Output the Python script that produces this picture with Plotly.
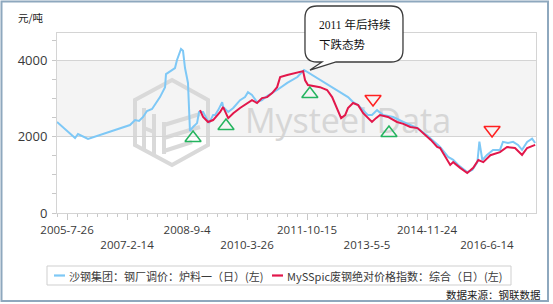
import plotly.graph_objects as go

# ---------------- data ----------------
blue_dates = ["2005-04-22", "2005-10-10", "2005-11-07", "2006-02-10", "2007-03-14", "2007-05-01",
              "2007-06-08", "2007-07-16", "2007-08-22", "2007-10-09", "2007-12-23", "2008-02-09",
              "2008-02-18", "2008-04-15", "2008-05-13", "2008-06-01", "2008-07-09", "2008-07-28",
              "2008-08-16", "2008-09-04", "2008-09-13", "2008-10-02", "2008-10-31", "2008-12-08",
              "2008-12-27", "2009-02-03", "2009-03-13", "2009-04-01", "2009-05-09", "2009-05-28",
              "2009-06-26", "2009-08-03", "2009-08-12", "2009-09-29", "2009-11-16", "2010-01-19",
              "2010-03-07", "2010-04-04", "2010-05-12", "2010-06-29", "2010-08-15", "2010-10-02",
              "2011-01-05", "2011-04-11", "2011-07-16", "2011-09-17", "2012-11-06", "2012-12-24",
              "2013-02-10", "2013-05-14", "2013-06-21", "2013-08-08", "2013-10-04", "2014-01-08",
              "2014-04-14", "2014-08-26", "2014-11-24", "2015-02-28", "2015-03-28", "2015-06-12",
              "2015-07-30", "2015-09-16", "2015-12-10", "2016-01-27", "2016-03-15", "2016-04-03",
              "2016-05-01", "2016-06-14", "2016-08-10", "2016-10-15", "2016-11-12", "2016-12-30",
              "2017-02-16", "2017-04-04", "2017-05-12", "2017-06-29", "2017-08-15", "2017-09-13"]
blue_vals = [2380, 1960, 2065, 1935, 2300, 2430,
             2405, 2510, 2666, 2720, 3030, 3290,
             3630, 3740, 3790, 4000, 4290, 4240,
             3790, 3530, 3400, 2145, 2250, 2350,
             2640, 2640, 2430, 2350, 2560, 2560,
             2690, 2900, 2770, 2640, 2745, 2950,
             3030, 3160, 3085, 2900, 2950, 3060,
             3215, 3400, 3555, 3740, 3030, 2900,
             2820, 2560, 2560, 2690, 2560, 2510,
             2380, 2220, 2035, 1810, 1725, 1465,
             1390, 1255, 1070, 1125, 1330, 1865,
             1385, 1520, 1650, 1650, 1860, 1830,
             1860, 1780, 1650, 1860, 1945, 1830]

red_dates = ["2009-01-05", "2009-02-03", "2009-03-22", "2009-05-09", "2009-07-15", "2009-08-12",
             "2009-09-29", "2009-11-16", "2010-01-19", "2010-03-26", "2010-05-12", "2010-06-29",
             "2010-08-15", "2010-10-02", "2010-11-19", "2011-01-05", "2011-02-03", "2011-04-11",
             "2011-07-16", "2011-09-08", "2011-09-27", "2011-10-24", "2012-02-15", "2012-04-22",
             "2012-06-09", "2012-07-26", "2012-09-02", "2012-10-10", "2012-11-06", "2012-12-24",
             "2013-02-10", "2013-03-30", "2013-05-14", "2013-06-21", "2013-07-29", "2013-09-05",
             "2013-11-20", "2014-02-13", "2014-04-14", "2014-06-19", "2014-08-26", "2014-10-21",
             "2014-12-30", "2015-02-28", "2015-03-28", "2015-07-02", "2015-07-30", "2015-10-04",
             "2015-12-10", "2016-02-05", "2016-03-24", "2016-05-10", "2016-07-16", "2016-10-15",
             "2016-12-21", "2017-03-06", "2017-05-12", "2017-06-29", "2017-09-13"]
red_vals = [2690, 2510, 2380, 2430, 2640, 2770,
            2480, 2610, 2745, 2875, 2950, 2875,
            3005, 3030, 3135, 3290, 3555, 3610,
            3685, 3710, 3470, 3345, 3290, 3215,
            3030, 2745, 2480, 2560, 2745, 2875,
            2820, 2610, 2480, 2380, 2480, 2560,
            2510, 2380, 2330, 2250, 2220, 2090,
            1910, 1730, 1700, 1255, 1330, 1180,
            1045, 1180, 1385, 1330, 1510, 1590,
            1725, 1700, 1520, 1700, 1780]

up_dates = ["2008-10-31", "2009-09-08", "2011-11-11", "2013-11-29"]
up_vals = [1960, 2274, 3111, 2091]
down_dates = ["2013-07-01", "2016-08-01"]
down_vals = [2980, 2170]

tick_dates = ["2005-07-26", "2007-02-14", "2008-09-04", "2010-03-26",
              "2011-10-15", "2013-05-05", "2014-11-24", "2016-06-14"]
tick_labels = ["2005-7-26", "2007-2-14", "2008-9-4", "2010-3-26",
               "2011-10-15", "2013-5-5", "2014-11-24", "2016-6-14"]
y_ticks = [0, 2000, 4000]

name_blue = "沙钢集团：钢厂调价：炉料一（日）(左)"
name_red = "MySSpic废钢绝对价格指数：综合（日）(左)"
unit_text = "元/吨"
source_text = "数据来源：钢联数据"
callout_lines = ["2011 年后持续", "下跌态势"]
watermark = "Mysteel Data"

# ---------------- layout geometry (pixels) ----------------
W, H = 553, 304
PL, PR, PT, PB = 57, 536, 33, 213
pw, ph = PR - PL, PB - PT


def px(x):
    return (x - PL) / pw


def py(y):
    return (PB - y) / ph


BLUE = "#7ec8f6"
RED = "#e2174b"
GREEN = "#24b45f"
TRIRED = "#ff2020"
FONT = "Open Sans, Noto Sans CJK SC, sans-serif"
CJK = "Noto Sans CJK SC, sans-serif"
TXT = "#3a3a3a"

fig = go.Figure()
fig.add_trace(go.Scatter(x=blue_dates, y=blue_vals, mode="lines", name=name_blue,
                         line=dict(color=BLUE, width=2), showlegend=False))
fig.add_trace(go.Scatter(x=red_dates, y=red_vals, mode="lines", name=name_red,
                         line=dict(color=RED, width=2), showlegend=False))
fig.add_trace(go.Scatter(x=up_dates, y=up_vals, mode="markers", showlegend=False,
                         marker=dict(symbol="triangle-up-open", size=14, color=GREEN,
                                     line=dict(width=1.5, color=GREEN))))
fig.add_trace(go.Scatter(x=down_dates, y=down_vals, mode="markers", showlegend=False,
                         marker=dict(symbol="triangle-down-open", size=14, color=TRIRED,
                                     line=dict(width=1.5, color=TRIRED))))

shapes = []
# shaded band between 2000 and 4000
shapes.append(dict(type="rect", xref="paper", yref="y", x0=0, x1=1, y0=2000, y1=4000,
                   fillcolor="#f4f4f4", line=dict(width=0), layer="below"))
# watermark logo (hexagon + inner strokes)
WM = "#d9d9d9"
hexpts = [(172, 80), (208, 100), (208, 145), (172, 165), (135, 145), (135, 100)]
path = "M " + " L ".join(f"{px(a):.4f},{py(b):.4f}" for a, b in hexpts) + " Z"
shapes.append(dict(type="path", xref="paper", yref="paper", path=path,
                   line=dict(color=WM, width=4), layer="below"))
strokes = [((144, 108), (144, 150)), ((154, 114), (154, 154)), ((144, 128), (154, 132)),
           ((164, 122), (164, 154)), ((164, 125), (200, 114)), ((164, 138), (200, 127)),
           ((164, 151), (192, 142))]
for (a, b), (c, d) in strokes:
    shapes.append(dict(type="line", xref="paper", yref="paper", x0=px(a), y0=py(b),
                       x1=px(c), y1=py(d), line=dict(color=WM, width=4), layer="below"))
# watermark text (shape label, drawn beneath traces)
shapes.append(dict(type="rect", xref="paper", yref="paper", x0=px(228), x1=px(468),
                   y0=py(140), y1=py(104), line=dict(width=0), fillcolor="rgba(0,0,0,0)",
                   layer="below",
                   label=dict(text=watermark, textposition="middle center",
                              font=dict(family="Open Sans, sans-serif", size=34, color="#d6d6d6"))))

# callout bubble
bx0, bx1, by0, by1 = 305, 403, 6, 62
r = 12
tl, tip, tr = 322, (310, 70), 336
pts = (f"M {px(bx0 + r):.4f},{py(by0):.4f} L {px(bx1 - r):.4f},{py(by0):.4f} "
       f"Q {px(bx1):.4f},{py(by0):.4f} {px(bx1):.4f},{py(by0 + r):.4f} "
       f"L {px(bx1):.4f},{py(by1 - r):.4f} "
       f"Q {px(bx1):.4f},{py(by1):.4f} {px(bx1 - r):.4f},{py(by1):.4f} "
       f"L {px(tr):.4f},{py(by1):.4f} L {px(tip[0]):.4f},{py(tip[1]):.4f} "
       f"L {px(tl):.4f},{py(by1):.4f} L {px(bx0 + r):.4f},{py(by1):.4f} "
       f"Q {px(bx0):.4f},{py(by1):.4f} {px(bx0):.4f},{py(by1 - r):.4f} "
       f"L {px(bx0):.4f},{py(by0 + r):.4f} "
       f"Q {px(bx0):.4f},{py(by0):.4f} {px(bx0 + r):.4f},{py(by0):.4f} Z")
shapes.append(dict(type="path", xref="paper", yref="paper", path=pts,
                   line=dict(color="#3c3c3c", width=1.3), fillcolor="white", layer="above"))

# legend box
lx0, lx1, ly0, ly1 = 47, 511, 266, 285
shapes.append(dict(type="rect", xref="paper", yref="paper", x0=px(lx0), x1=px(lx1),
                   y0=py(ly1), y1=py(ly0), line=dict(color="#cfcfcf", width=1),
                   fillcolor="white"))
ly = (ly0 + ly1) / 2
shapes.append(dict(type="line", xref="paper", yref="paper", x0=px(54), x1=px(65),
                   y0=py(ly), y1=py(ly), line=dict(color=BLUE, width=2.2)))
shapes.append(dict(type="line", xref="paper", yref="paper", x0=px(272), x1=px(283),
                   y0=py(ly), y1=py(ly), line=dict(color=RED, width=2.2)))
# outer frame
shapes.append(dict(type="rect", xref="paper", yref="paper", x0=px(1.5), x1=px(548),
                   y0=py(301), y1=py(1.5), line=dict(color="#8ea8be", width=2),
                   fillcolor="rgba(0,0,0,0)"))

annotations = [
    dict(text=unit_text, x=px(16), y=py(17), xref="paper", yref="paper", xanchor="left",
         yanchor="middle", showarrow=False, font=dict(family=CJK, size=10.5, color="#222")),
    dict(text=source_text, x=px(543), y=py(294), xref="paper", yref="paper", xanchor="right",
         yanchor="middle", showarrow=False, font=dict(family=CJK, size=10.5, color="#222")),
    dict(text=name_blue, x=px(67), y=py(ly), xref="paper", yref="paper", xanchor="left",
         yanchor="middle", showarrow=False, font=dict(family=CJK, size=11, color=TXT)),
    dict(text=name_red, x=px(285), y=py(ly), xref="paper", yref="paper", xanchor="left",
         yanchor="middle", showarrow=False, font=dict(family=CJK, size=11, color=TXT)),
]
for i, t in enumerate(callout_lines):
    annotations.append(dict(text=t, x=px(317), y=py(25 + 19 * i), xref="paper", yref="paper",
                            xanchor="left", yanchor="middle", showarrow=False,
                            font=dict(family="Liberation Serif, Noto Sans CJK SC, serif",
                                      size=11.5, color="#111")))

ticktext = [t if i % 2 == 0 else "<br>" + t for i, t in enumerate(tick_labels)]

fig.update_layout(
    width=W, height=H,
    margin=dict(l=PL, r=W - PR, t=PT, b=H - PB),
    paper_bgcolor="white", plot_bgcolor="rgba(0,0,0,0)",
    shapes=shapes, annotations=annotations,
    showlegend=False,
    xaxis=dict(type="date", range=["2005-04-22", "2017-09-21"],
               tickvals=tick_dates, ticktext=ticktext, tickangle=0,
               ticks="outside", ticklen=6, tickcolor="#c8c8c8", tickwidth=1,
               showgrid=False, zeroline=False,
               showline=True, linecolor="#d4d4d4", linewidth=1, mirror=True,
               tickfont=dict(family=FONT, size=11.5, color=TXT),
               minor=dict(ticks="outside", ticklen=3, tickcolor="#c8c8c8",
                          tick0="2005-07-26", dtick=568 * 86400000 / 6, showgrid=False)),
    yaxis=dict(range=[0, 4706], tickvals=y_ticks, ticks="outside", ticklen=4,
               tickcolor="#c8c8c8", showgrid=True, gridcolor="#d4d4d4", gridwidth=1,
               zeroline=False, showline=True, linecolor="#d4d4d4", linewidth=1, mirror=True,
               tickfont=dict(family=FONT, size=13, color=TXT), ticklabelstandoff=2,
               minor=dict(ticks="outside", ticklen=4, tickcolor="#c8c8c8", dtick=500,
                          showgrid=False)),
)

fig.write_html("out.html")
